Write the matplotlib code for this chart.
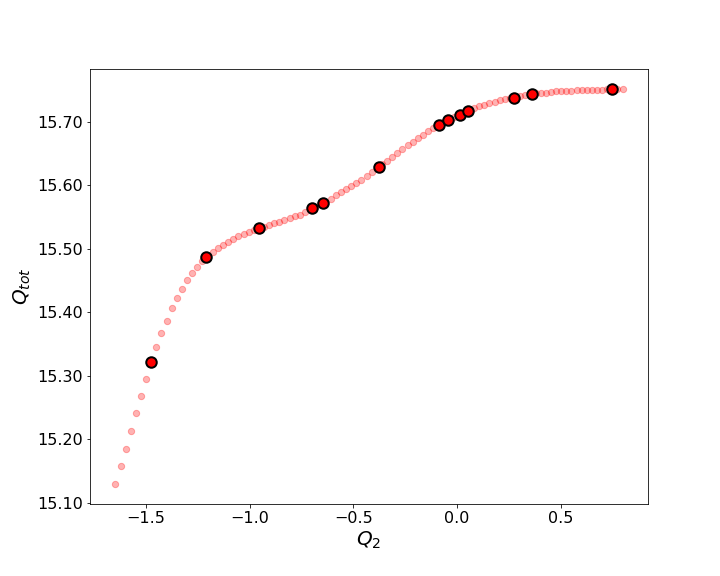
#Plot Q_tot vs Q_2 scan with selected points

import numpy as np
import matplotlib.pyplot as plt
from matplotlib.ticker import FormatStrFormatter

#_________INPUT data_______
# full scan (pale points)
q2_scan = [-1.647, -1.622, -1.598, -1.573, -1.548, -1.523, -1.499, -1.474, -1.449, -1.425,
           -1.400, -1.375, -1.350, -1.326, -1.301, -1.276, -1.252, -1.227, -1.202, -1.178,
           -1.153, -1.128, -1.103, -1.079, -1.054, -1.029, -1.005, -0.980, -0.955, -0.930,
           -0.906, -0.881, -0.856, -0.832, -0.807, -0.782, -0.757, -0.733, -0.708, -0.683,
           -0.659, -0.634, -0.609, -0.584, -0.560, -0.535, -0.510, -0.486, -0.461, -0.436,
           -0.411, -0.387, -0.362, -0.337, -0.313, -0.288, -0.263, -0.238, -0.214, -0.189,
           -0.164, -0.140, -0.115, -0.090, -0.065, -0.041, -0.016, 0.009, 0.033, 0.058,
           0.083, 0.107, 0.132, 0.157, 0.182, 0.206, 0.231, 0.256, 0.280, 0.305,
           0.330, 0.354, 0.379, 0.404, 0.429, 0.453, 0.478, 0.503, 0.527, 0.552,
           0.577, 0.601, 0.626, 0.651, 0.676, 0.700, 0.725, 0.750, 0.774, 0.799]
qtot_scan = [15.129, 15.157, 15.185, 15.213, 15.241, 15.268, 15.295, 15.321, 15.345, 15.367,
             15.387, 15.406, 15.422, 15.437, 15.451, 15.462, 15.472, 15.480, 15.489, 15.495,
             15.501, 15.506, 15.511, 15.516, 15.520, 15.524, 15.527, 15.530, 15.533, 15.535,
             15.538, 15.540, 15.543, 15.545, 15.548, 15.551, 15.554, 15.558, 15.562, 15.566,
             15.570, 15.574, 15.579, 15.584, 15.589, 15.594, 15.599, 15.604, 15.609, 15.615,
             15.621, 15.627, 15.633, 15.639, 15.645, 15.651, 15.657, 15.663, 15.669, 15.675,
             15.680, 15.685, 15.690, 15.695, 15.700, 15.704, 15.708, 15.711, 15.715, 15.718,
             15.722, 15.725, 15.727, 15.730, 15.732, 15.734, 15.736, 15.738, 15.739, 15.741,
             15.742, 15.744, 15.745, 15.746, 15.746, 15.747, 15.748, 15.748, 15.749, 15.749,
             15.750, 15.750, 15.750, 15.751, 15.751, 15.751, 15.752, 15.752, 15.752, 15.752]

# selected points (big markers)
q2_sel = [-1.473, -1.210, -0.953, -0.699, -0.646, -0.375, -0.088, -0.044, 0.014, 0.052,
          0.275, 0.361, 0.746]
qtot_sel = [15.322, 15.487, 15.533, 15.564, 15.572, 15.629, 15.695, 15.703, 15.711, 15.717,
            15.738, 15.744, 15.752]

#_________Figure Style_______________________
plt.rcParams["font.size"] = 16
plt.rcParams["figure.figsize"] = (10, 8)
plt.rcParams["figure.dpi"] = 72

#____________Plot_______________________
fig, ax = plt.subplots(1, 1)
fig.subplots_adjust(left=0.125, right=0.9, top=0.88, bottom=0.125)

ax.scatter(q2_scan, qtot_scan, s=40, c='r', alpha=0.3)
ax.scatter(q2_sel, qtot_sel, s=110, c='r', edgecolors='k', linewidths=2)

ax.set_xlabel("$Q_2$", fontsize=20)
ax.set_ylabel("$Q_{tot}$", fontsize=20)
ax.yaxis.set_major_formatter(FormatStrFormatter("%.2f"))
ax.tick_params(labelsize=16)

fig.savefig("out.png", dpi=72)
